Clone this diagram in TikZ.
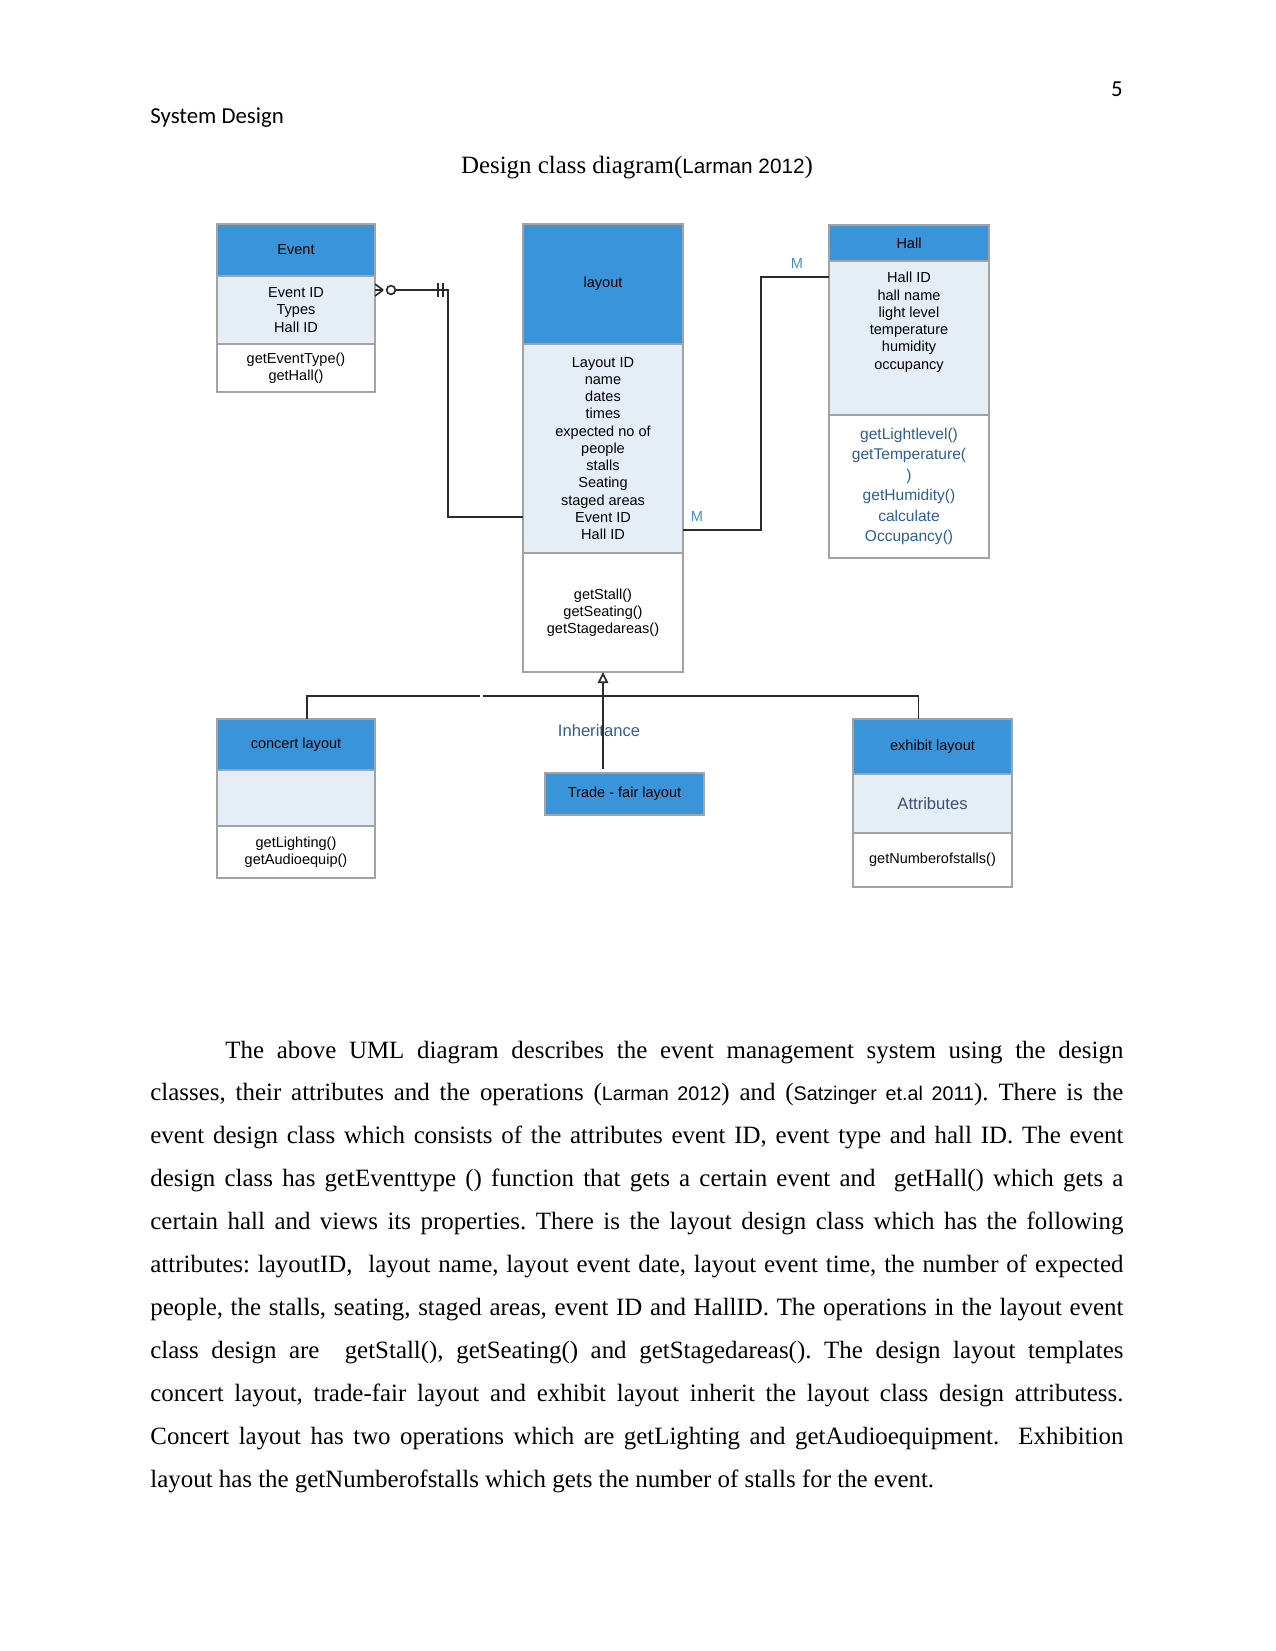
\documentclass[tikz,border=0pt]{standalone}
\usepackage{fontspec}
\setmainfont{Liberation Serif}
\setsansfont{Liberation Sans}
\newfontfamily\hdrfont{Carlito}
\usetikzlibrary{arrows.meta,positioning,calc}
\definecolor{cHead}   {HTML}{3A94DA}
\definecolor{cAttr}   {HTML}{E5EDF7}
\definecolor{cEdge}   {HTML}{A3A3A3}
\definecolor{cLine}   {HTML}{2B2B2B}
\definecolor{cBlue}   {HTML}{2F5F96}
\definecolor{cMark}   {HTML}{4A8CC6}
\definecolor{cAttrTxt}{HTML}{3D5170}
\newlength{\pxu}\setlength{\pxu}{0.4818pt}
\newcommand{\citeSans}[2][9.5]{{\fontsize{#1}{#1}\sffamily #2}}
\frenchspacing

\begin{document}
\begin{tikzpicture}[
  x=0.4818pt, y=-0.4818pt,
  font=\sffamily\fontsize{7}{8.3}\selectfont,
  comp/.style={draw=cEdge, line width=0.6pt, anchor=north west, inner sep=0pt,
    outer sep=0pt, align=center, minimum width=158\pxu},
  head/.style={comp, fill=cHead},
  attr/.style={comp, fill=cAttr},
  meth/.style={comp, fill=white},
  conn/.style={draw=cLine, line width=0.8pt},
  inh/.style={conn, -{Triangle[open, length=5.3pt, width=5pt]}},
  mult/.style={text=cMark, inner sep=0pt},
  pagetext/.style={inner sep=0pt, font=\rmfamily\fontsize{12}{14}\selectfont},
]
\useasboundingbox (0,0) rectangle (1275,1651);
\fill[white] (0,0) rectangle (1275,1651);

% ---------------------------------------------------------------- page header
\node[pagetext, anchor=base west, font=\hdrfont\fontsize{11}{13}\selectfont] (hdr) at (150,124) {System Design};
\node[pagetext, anchor=base east, font=\hdrfont\fontsize{11}{13}\selectfont] (pgno) at (1123,97) {5};
\node[pagetext, anchor=base] (title) at (637,174) {Design class diagram(\citeSans[10]{Larman 2012})};

% ---------------------------------------------------------------- Event
\node[head, minimum height=52\pxu] (evtH) at (217,224) {Event};
\node[attr, minimum height=68\pxu] (evtA) at (evtH.south west) {Event ID\\Types\\Hall ID};
\node[meth, minimum height=48\pxu] (evtM) at (evtA.south west) {getEventType()\\getHall()};

% ---------------------------------------------------------------- layout
\node[head, minimum width=160\pxu, minimum height=120\pxu] (layH) at (523,224) {layout};
\node[attr, minimum width=160\pxu, minimum height=209\pxu] (layA) at (layH.south west)
  {Layout ID\\name\\dates\\times\\expected no of\\people\\stalls\\Seating\\staged areas\\Event ID\\Hall ID};
\node[meth, minimum width=160\pxu, minimum height=119\pxu] (layM) at (layA.south west)
  {getStall()\\getSeating()\\getStagedareas()};

% ---------------------------------------------------------------- Hall
\node[head, minimum width=160\pxu, minimum height=36\pxu] (hallH) at (829,225) {Hall};
\node[attr, minimum width=160\pxu, minimum height=154\pxu] (hallA) at (hallH.south west) {};
\node[anchor=north, align=center, inner sep=0pt] (hallAtxt) at ($(hallA.north)+(0,11)$)
  {Hall ID\\hall name\\light level\\temperature\\humidity\\occupancy};
\node[meth, minimum width=160\pxu, minimum height=143\pxu, text=cBlue,
  font=\sffamily\fontsize{7.5}{9.9}\selectfont] (hallM) at (hallA.south west)
  {getLightlevel()\\getTemperature(\\)\\getHumidity()\\calculate\\Occupancy()};

% ---------------------------------------------------------------- sub classes
\node[head, minimum height=51\pxu] (cncH) at (217,719) {concert layout};
\node[attr, minimum height=56\pxu] (cncA) at (cncH.south west) {};
\node[meth, minimum height=52\pxu] (cncM) at (cncA.south west) {getLighting()\\getAudioequip()};

\node[head, minimum width=159\pxu, minimum height=42\pxu] (trdH) at (545,773) {Trade - fair layout};

\node[head, minimum width=159\pxu, minimum height=55\pxu] (exhH) at (853,719) {exhibit layout};
\node[attr, minimum width=159\pxu, minimum height=59\pxu, text=cAttrTxt,
  font=\sffamily\fontsize{8}{9}\selectfont] (exhA) at (exhH.south west) {Attributes};
\node[meth, minimum width=159\pxu, minimum height=54\pxu] (exhM) at (exhA.south west) {getNumberofstalls()};

% ---------------------------------------------------------------- Event -- layout
\coordinate (ev1)  at ($(evtA.north east)+(0,14)$);
\coordinate (lay1) at ($(layA.south west)+(0,-36)$);
\draw[conn] ($(ev1)+(8,0)$) -- ($(ev1)+(0,-6)$)
            ($(ev1)+(8,0)$) -- (ev1)
            ($(ev1)+(8,0)$) -- ($(ev1)+(0,6)$);
\draw[conn, fill=white] ($(ev1)+(16,0)$) circle[radius=2.1pt];
\draw[conn] ($(ev1)+(20,0)$) -- ($(ev1)+(73,0)$) |- (lay1);
\draw[conn] ($(ev1)+(63,-7)$) -- ($(ev1)+(63,7)$)
            ($(ev1)+(68,-7)$) -- ($(ev1)+(68,7)$);

% ---------------------------------------------------------------- layout -- Hall
\coordinate (lay2)  at ($(layA.south east)+(0,-23)$);
\coordinate (hall1) at ($(hallA.north west)+(0,16)$);
\draw[conn] (lay2) -- ++(78,0) |- (hall1);
\node[mult] (mLay)  at (697,517) {M};
\node[mult] (mHall) at (797,264) {M};

% ---------------------------------------------------------------- inheritance
\node[text=cBlue, inner sep=0pt, font=\sffamily\fontsize{8}{9}\selectfont] (inhLbl) at (599,731) {Inheritance};
\coordinate (inhB) at ($(layM.south)+(0,97)$);
\draw[inh] (inhB) -- (layM.south);
\draw[conn] ($(cncH.north)+(11,0)$) |- ($(layM.south)+(-123,24)$);
\draw[conn] ($(layM.south)+(-120,24)$) -| ($(exhH.north)+(-14,0)$);

% ---------------------------------------------------------------- body text
\node[pagetext, anchor=base west, text width=973\pxu, align=justify,
  font=\rmfamily\fontsize{12}{20.7}\selectfont] (body) at (150,1058) {%
\hspace*{75\pxu}The above UML diagram describes the event management system using the design\linebreak
classes, their attributes and the operations (\citeSans{Larman 2012}) and (\citeSans{Satzinger et.al 2011}). There is the\linebreak
event design class which consists of the attributes event ID, event type and hall ID. The event\linebreak
design class has getEventtype () function that gets a certain event and \ getHall() which gets a\linebreak
certain hall and views its properties. There is the layout design class which has the following\linebreak
attributes: layoutID, \ layout name, layout event date, layout event time, the number of expected\linebreak
people, the stalls, seating, staged areas, event ID and HallID. The operations in the layout event\linebreak
class design are \ getStall(), getSeating() and getStagedareas(). The design layout templates\linebreak
concert layout, trade-fair layout and exhibit layout inherit the layout class design attributess.\linebreak
Concert layout has two operations which are getLighting and getAudioequipment. \ Exhibition\linebreak
layout has the getNumberofstalls which gets the number of stalls for the event.};

\end{tikzpicture}
\end{document}
